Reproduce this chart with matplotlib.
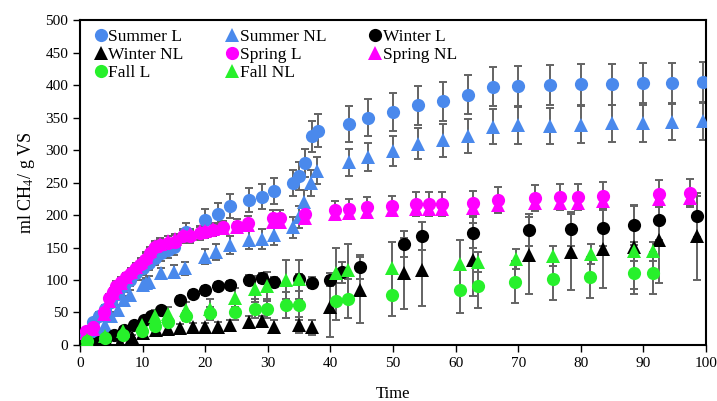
import matplotlib
matplotlib.use("Agg")
import matplotlib.pyplot as plt

plt.rcParams['font.family'] = ['Liberation Serif', 'DejaVu Serif']
plt.rcParams['mathtext.fontset'] = 'stix'

# Summer L
t_sl = [1, 2, 3, 4, 5, 6, 7, 8, 9, 10, 11, 12, 13, 14, 15, 17, 20, 22, 24, 27, 29, 31,
        34, 35, 36, 37, 38, 43, 46, 50, 54, 58, 62, 66, 70, 75, 80, 85, 90, 94.5, 99.5]
v_sl = [15, 35, 45, 55, 66, 78, 90, 100, 110, 118, 126, 134, 141, 146, 151, 174, 192, 201, 214, 223, 228, 237,
        249, 260, 280, 321, 330, 340, 350, 359, 369, 375, 385, 397, 399, 400, 401, 401, 403, 403, 405]
e_sl = [4, 5, 6, 7, 8, 8, 9, 9, 10, 10, 11, 11, 12, 12, 12, 13, 18, 18, 19, 19, 19, 20,
        20, 21, 22, 24, 26, 27, 28, 29, 30, 30, 30, 30, 31, 31, 31, 31, 31, 31, 31]

# Summer NL
t_snl = [1, 2, 3, 4, 5, 6, 7, 8, 10, 10.6, 11, 13, 15, 16.7, 20, 21.8, 24, 27, 29, 31,
         34, 35, 35.8, 36.9, 37.8, 43, 46, 50, 54, 58, 62, 66, 70, 75, 80, 85, 90, 94.5, 99.5]
v_snl = [5, 12, 20, 31, 44, 54, 69, 77, 92, 95, 97, 110, 113, 118, 136, 143, 154, 161, 163, 169,
         181, 197, 220, 249, 268, 281, 289, 299, 310, 315, 321, 336, 338, 337, 339, 341, 341, 343, 344]
e_snl = [3, 4, 5, 6, 6, 7, 7, 8, 8, 8, 9, 9, 10, 10, 12, 13, 14, 14, 15, 15,
         16, 17, 18, 20, 21, 21, 22, 23, 24, 25, 26, 27, 28, 28, 28, 28, 28, 28, 28]

# Winter L
t_wl = [1, 2, 3, 4, 5.5, 7, 8.7, 10.3, 11.4, 13, 16, 18, 20, 22, 24, 27, 29, 31, 35, 37,
        40, 41.8, 44.7, 51.7, 54.7, 62.7, 71.7, 78.5, 83.6, 88.5, 92.5, 98.5]
v_wl = [1, 2, 4, 8, 15, 23, 31, 38, 44, 54, 69, 79, 84, 90, 92, 100, 103, 97, 101, 96,
        100, 112, 120, 155, 168, 173, 177, 178, 180, 184, 192, 198]
e_wl = [1, 1, 2, 2, 3, 3, 4, 4, 5, 5, 6, 6, 7, 7, 7, 8, 8, 8, 8, 8,
        10, 16, 18, 20, 22, 24, 25, 26, 28, 30, 31, 32]

# Winter NL
t_wnl = [2, 4, 6.4, 8.3, 10.1, 12.2, 14, 16, 18, 20, 22, 24, 27, 29, 31, 35, 37, 40,
         44.7, 51.7, 54.7, 62.7, 71.7, 78.5, 83.6, 88.5, 92.5, 98.5]
v_wnl = [0, 1, 3, 13, 18, 23, 25, 26, 28, 28, 28, 31, 36, 37, 28, 31, 27, 59,
         85, 110, 115, 131, 138, 143, 148, 151, 161, 167]
e_wnl = [1, 1, 2, 3, 4, 5, 5, 6, 6, 6, 7, 7, 8, 8, 10, 12, 12, 47,
         51, 54, 55, 56, 59, 58, 61, 65, 66, 67]

# Spring L
t_spl = [1, 2, 3.9, 4.7, 5.3, 5.8, 6.6, 7.4, 8.2, 9, 9.8, 10.6, 11.1, 11.9, 12.7, 14, 15.1, 16.5, 17.5, 19.1,
         20, 21.2, 22.9, 25, 26.9, 30.9, 31.9, 35.9, 40.7, 42.9, 45.8, 49.9, 53.7, 55.8, 57.8, 62.7, 66.7,
         72.7, 76.7, 79.6, 83.6, 92.5, 97.4]
v_spl = [22, 28, 51, 72, 82, 91, 97, 104, 110, 118, 125, 132, 141, 151, 154, 157, 159, 167, 167, 172,
         174, 177, 181, 183, 187, 196, 196, 202, 208, 210, 212, 214, 217, 217, 217, 218, 223,
         226, 227, 227, 230, 233, 234]
e_spl = [3, 4, 5, 6, 6, 7, 7, 7, 8, 8, 8, 9, 9, 9, 10, 10, 10, 10, 10, 10,
         10, 10, 10, 11, 11, 11, 11, 12, 13, 14, 15, 16, 18, 18, 18, 19, 20,
         20, 20, 20, 21, 21, 22]

# Spring NL
t_spnl = t_spl
v_spnl = [18, 25, 47, 68, 80, 89, 96, 104, 112, 120, 128, 136, 144, 152, 156, 160, 163, 170, 171, 175,
          176, 178, 180, 181, 184, 190, 190, 195, 201, 203, 205, 207, 209, 209, 209, 211, 215,
          218, 219, 219, 222, 225, 226]
e_spnl = [2, 3, 4, 4, 5, 5, 5, 6, 6, 6, 6, 7, 7, 7, 7, 7, 8, 8, 8, 8,
          8, 8, 8, 8, 8, 8, 8, 9, 9, 9, 9, 9, 9, 9, 9, 9, 10,
          10, 10, 10, 10, 10, 10]

# Fall L
t_fl = [1.1, 4, 6.9, 9.9, 12, 14.1, 17, 20.8, 24.8, 28, 29.9, 32.9, 35, 40.9, 42.8, 49.8,
        60.7, 63.6, 69.5, 75.6, 81.5, 88.5, 91.5]
v_fl = [6, 10, 15, 21, 29, 36, 45, 49, 51, 56, 56, 61, 61, 67, 71, 77,
        84, 90, 97, 101, 104, 110, 111]
e_fl = [2, 3, 4, 5, 6, 7, 8, 10, 12, 14, 15, 20, 22, 28, 30, 33,
        35, 33, 32, 32, 32, 32, 32]

# Fall NL
t_fnl = [1.1, 4, 6.9, 9.9, 12, 14.1, 17, 20.8, 24.8, 28, 29.9, 32.9, 35, 40.9, 42.8, 49.8,
         60.7, 63.6, 69.6, 75.6, 81.6, 88.5, 91.5]
v_fnl = [8, 14, 22, 30, 44, 48, 54, 56, 73, 86, 90, 100, 101, 110, 115, 119,
         124, 128, 132, 137, 140, 144, 144]
e_fnl = [3, 4, 6, 8, 10, 11, 12, 14, 15, 20, 22, 30, 30, 40, 40, 40,
         38, 15, 15, 15, 15, 15, 15]

blue = '#4a89ec'
green = '#27f02b'
magenta = '#ff00ff'

series = [
    ('Summer L', t_sl, v_sl, e_sl, blue, 'o'),
    ('Summer NL', t_snl, v_snl, e_snl, blue, '^'),
    ('Winter L', t_wl, v_wl, e_wl, 'black', 'o'),
    ('Winter NL', t_wnl, v_wnl, e_wnl, 'black', '^'),
    ('Spring L', t_spl, v_spl, e_spl, magenta, 'o'),
    ('Spring NL', t_spnl, v_spnl, e_spnl, magenta, '^'),
    ('Fall L', t_fl, v_fl, e_fl, green, 'o'),
    ('Fall NL', t_fnl, v_fnl, e_fnl, green, '^'),
]

fig = plt.figure(figsize=(7.17, 4.01), dpi=100)
ax = fig.add_axes([0.1116, 0.1397, 0.8731, 0.8103])

handles = {}
for i, (name, t, v, e, c, m) in enumerate(series):
    ax.errorbar(t, v, yerr=e, fmt='none', ecolor='#636363', elinewidth=1.4,
                capsize=3, capthick=1.4, zorder=2)
    h, = ax.plot(t, v, ls='none', marker=m, color=c, markersize=9.5 if m == 'o' else 10,
                 markeredgewidth=0, zorder=3 + i * 0.1, label=name)
    handles[name] = h

# column-major order so the legend reads row by row
order = ['Summer L', 'Winter NL', 'Fall L',
         'Summer NL', 'Spring L', 'Fall NL',
         'Winter L', 'Spring NL']
ax.legend([handles[k] for k in order], order, loc='upper left', ncol=3, frameon=False,
          fontsize=12.5, handlelength=0.8, handletextpad=0.05, columnspacing=2.4,
          labelspacing=0.1, borderaxespad=0.1, bbox_to_anchor=(0.008, 1.0))

ax.set_xlim(0, 100)
ax.set_ylim(0, 500)
ax.set_xticks(range(0, 101, 10))
ax.set_yticks(range(0, 501, 50))
ax.tick_params(direction='out', length=5, width=1, labelsize=11, top=False, right=False)
for s in ax.spines.values():
    s.set_linewidth(1.5)

ax.set_xlabel('Time', fontsize=12, labelpad=12)
ax.set_ylabel('ml CH$_4$/ g VS', fontsize=13, labelpad=6)

fig.savefig('out.png', dpi=100)
